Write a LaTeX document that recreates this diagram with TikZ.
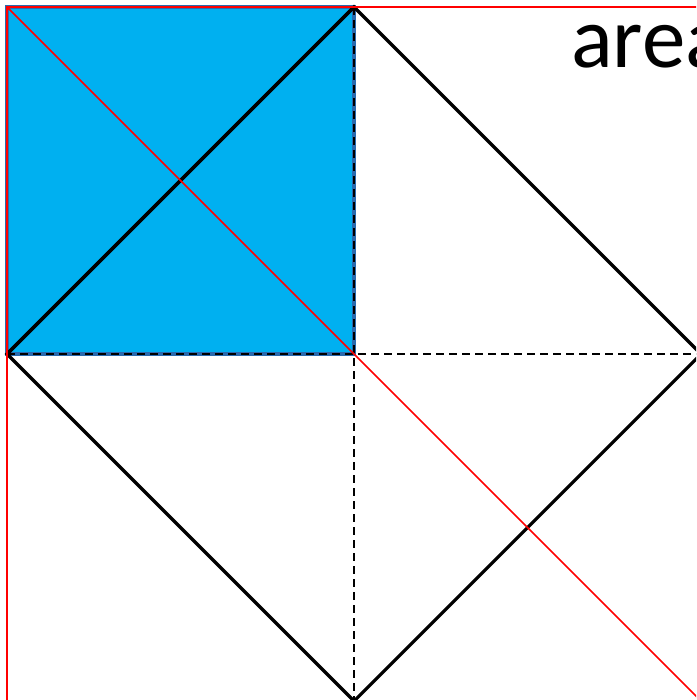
\documentclass[tikz,border=0pt]{standalone}
\usepackage{fontspec}
\setmainfont{Carlito}
\usepackage{xcolor}
\definecolor{skyfill}{HTML}{00B0F0}
\definecolor{skyedge}{HTML}{2A6AAE}

\begin{document}
\begin{tikzpicture}[x=1pt,y=-1pt,
  redline/.style={red,line width=1.6pt},
  diamondline/.style={black,line width=3.2pt,line join=miter},
  guideline/.style={black,line width=1.7pt,dash pattern=on 8pt off 5pt}]
  \useasboundingbox (0,0) rectangle (696,700);
  \clip (0,0) rectangle (696,700);
  % corner points
  \coordinate (tl) at (7,7);
  \coordinate (mid) at (354,354);
  \coordinate (top) at (354,7);
  \coordinate (rgt) at (701,354);
  \coordinate (bot) at (354,701);
  \coordinate (lft) at (7,354);
  \coordinate (trc) at (701,7);
  \coordinate (blc) at (7,701);
  \coordinate (brc) at (701,701);
  % shaded quarter
  \fill[skyfill] (tl) rectangle (mid);
  \draw[skyedge,line width=3.5pt] (tl) rectangle (mid);
  % dashed guides
  \draw[guideline] (top) -- (bot);
  \draw[guideline] (lft) -- (rgt);
  % diamond and its diagonal
  \draw[diamondline] (top) -- (rgt) -- (bot) -- (lft) -- cycle;
  \draw[diamondline] (lft) -- (top);
  % red outer square and diagonal
  \draw[redline] (blc) -- (tl) -- (trc);
  \draw[redline] (tl) -- (brc);
  \node[anchor=base west,inner sep=0pt,font=\fontsize{87}{100}\selectfont] (word) at (571,68) {area};
\end{tikzpicture}
\end{document}
